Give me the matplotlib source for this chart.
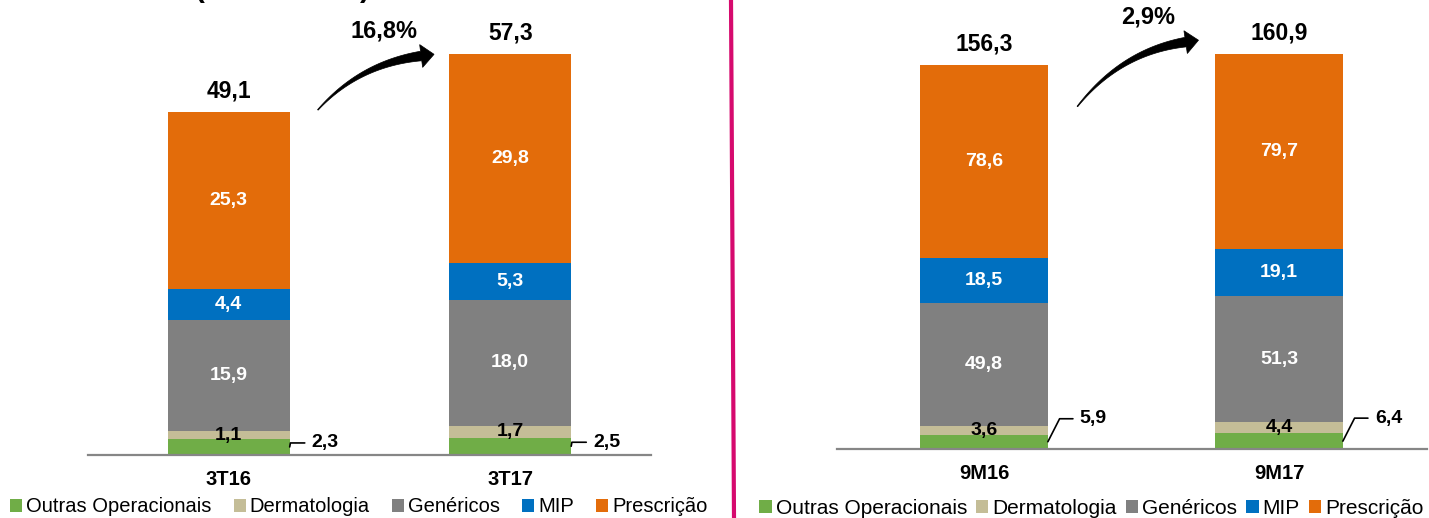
import numpy as np
import matplotlib
matplotlib.use("Agg")
import matplotlib.pyplot as plt
from matplotlib.patches import Patch, Polygon
from matplotlib.lines import Line2D
from matplotlib.transforms import IdentityTransform

plt.rcParams["font.family"] = ["Liberation Sans", "DejaVu Sans"]

# --------------------------#
# data
# --------------------------#
series = ["Outras Operacionais", "Dermatologia", "Genéricos", "MIP", "Prescrição"]
colors = ["#70AD47", "#C4BD97", "#808080", "#0070C0", "#E36C0A"]
label_colors = ["black", "black", "white", "white", "white"]

cats_q = ["3T16", "3T17"]
vals_q = [
    [2.3, 2.5],    # Outras Operacionais
    [1.1, 1.7],    # Dermatologia
    [15.9, 18.0],  # Genéricos
    [4.4, 5.3],    # MIP
    [25.3, 29.8],  # Prescrição
]
totals_q = [49.1, 57.3]
growth_q = "16,8%"

cats_9m = ["9M16", "9M17"]
vals_9m = [
    [5.9, 6.4],
    [3.6, 4.4],
    [49.8, 51.3],
    [18.5, 19.1],
    [78.6, 79.7],
]
totals_9m = [156.3, 160.9]
growth_9m = "2,9%"

W, H = 1429, 518
fig = plt.figure(figsize=(W / 100, H / 100), dpi=100)
fig.patch.set_facecolor("white")


def fmt(v):
    return f"{v:.1f}".replace(".", ",")


def curved_arrow(p0, p2):
    # tapered curved arrow drawn in pixel space, returns tip position
    p0 = np.array(p0, dtype=float)
    p2 = np.array(p2, dtype=float)
    d = p2 - p0
    p1 = np.array([p0[0] + 0.40 * d[0], p2[1] - 0.15 * d[1]])
    t = np.linspace(0, 1, 40)[:, None]
    pts = (1 - t) ** 2 * p0 + 2 * (1 - t) * t * p1 + t ** 2 * p2
    tan = 2 * (1 - t) * (p1 - p0) + 2 * t * (p2 - p1)
    tan = tan / np.linalg.norm(tan, axis=1)[:, None]
    nrm = np.column_stack([-tan[:, 1], tan[:, 0]])
    hw = (0.4 + 4.4 * t[:, 0] ** 1.2)[:, None]
    left = pts + nrm * hw
    right = pts - nrm * hw
    te = tan[-1]
    ne = nrm[-1]
    tip = p2 + te * 13
    head = [p2 + ne * 11.5, tip, p2 - ne * 11.5]
    poly = np.vstack([left, head, right[::-1]])
    fig.add_artist(
        Polygon(poly, closed=True, facecolor="black", edgecolor="black",
                lw=0.5, transform=IdentityTransform())
    )
    return tip


def panel(rect, ymax, cats, vals, totals, growth, leader_off, leader_ang,
          tail_dy, head_dy):
    ax = fig.add_axes(rect)
    x = np.arange(len(cats))
    width = 0.433
    bottom = np.zeros(len(cats))
    for i, (name, col) in enumerate(zip(series, colors)):
        v = np.array(vals[i])
        ax.bar(x, v, width, bottom=bottom, color=col, linewidth=0, label=name)
        for j in range(len(cats)):
            if i == 0:
                ax.annotate(
                    fmt(v[j]),
                    xy=(x[j] + width / 2, bottom[j] + v[j] / 2),
                    xytext=leader_off, textcoords="offset pixels",
                    ha="left", va="center", fontsize=14, fontweight="bold",
                    arrowprops=dict(arrowstyle="-", color="black", lw=1.2,
                                    connectionstyle=f"angle,angleA=0,angleB={leader_ang},rad=0",
                                    relpos=(0, 0.5), shrinkA=3, shrinkB=0),
                    annotation_clip=False,
                )
            else:
                ax.text(x[j], bottom[j] + v[j] / 2, fmt(v[j]), ha="center",
                        va="center", fontsize=14, fontweight="bold",
                        color=label_colors[i])
        bottom = bottom + v
    for j in range(len(cats)):
        ax.annotate(fmt(totals[j]), xy=(x[j], bottom[j]), xytext=(0, 21),
                    textcoords="offset pixels", ha="center", va="center",
                    fontsize=16.5, fontweight="bold", annotation_clip=False)

    ax.set_xlim(-0.5, len(cats) - 0.5)
    ax.set_ylim(0, ymax)
    ax.set_xticks(x)
    ax.set_xticklabels(cats, fontsize=14.5, fontweight="bold")
    ax.tick_params(axis="x", length=0, pad=11)
    ax.set_yticks([])
    for s in ["left", "right", "top"]:
        ax.spines[s].set_visible(False)
    ax.spines["bottom"].set_color("#868686")
    ax.spines["bottom"].set_linewidth(1.6)
    ax.set_facecolor("none")

    # growth arrow between the two bars
    p0 = ax.transData.transform((x[0] + width / 2 + 0.10, bottom[0] + tail_dy))
    p2 = ax.transData.transform((x[1] - width / 2 - 0.10, bottom[1] + head_dy))
    tip = curved_arrow(p0, p2)
    fig.text((tip[0] - 50) / W, (tip[1] + 23) / H, growth, ha="center",
             va="center", fontsize=17, fontweight="bold")
    return ax


ax1 = panel([88 / W, (H - 455) / H, 563 / W, 455 / H], 455 / 7.0,
            cats_q, vals_q, totals_q, growth_q, (22, 4), 80, 0.3, -0.3)
ax2 = panel([836.5 / W, (H - 449) / H, 590 / W, 449 / H], 449 / 2.457,
            cats_9m, vals_9m, totals_9m, growth_9m, (32, 23), 63, -17.0, 4.7)

# legends
handles = [Patch(facecolor=c, edgecolor="none") for c in colors]
fig.legend(handles, series, loc="center left", bbox_to_anchor=(10 / W, 1 - 507 / H),
           ncol=5, frameon=False, fontsize=14.5, handlelength=0.6,
           handleheight=0.6, handletextpad=0.2, columnspacing=1.1,
           borderpad=0, borderaxespad=0)
fig.legend(handles, series, loc="center left", bbox_to_anchor=(759 / W, 1 - 508 / H),
           ncol=5, frameon=False, fontsize=15, handlelength=0.6,
           handleheight=0.6, handletextpad=0.2, columnspacing=0.42,
           borderpad=0, borderaxespad=0)

# divider line
fig.add_artist(Line2D([731 / W, 734 / W], [1, 0], color="#D60A6E", lw=3,
                      transform=fig.transFigure))

# title cut off by the top edge, as in the source slide
fig.text(195 / W, 1 + 3 / H, "(R$ milhões)", ha="left", va="baseline",
         fontsize=21, fontweight="bold")

fig.savefig("out.png", dpi=100, facecolor="white")
